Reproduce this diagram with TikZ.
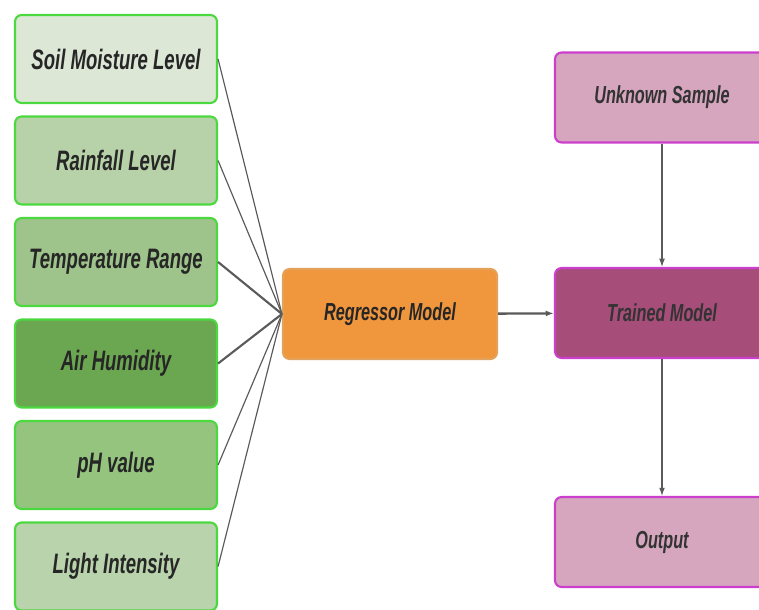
\documentclass[tikz,border=0pt]{standalone}
\usepackage{fontspec}
\setmainfont{Liberation Sans}[FakeStretch=0.66]
\usetikzlibrary{arrows.meta}

\definecolor{soilfill}{HTML}{DDE7D6}
\definecolor{rainfill}{HTML}{B7D2A9}
\definecolor{tempfill}{HTML}{9EC48B}
\definecolor{humfill}{HTML}{6BA651}
\definecolor{phfill}{HTML}{94C47E}
\definecolor{lightfill}{HTML}{B9D3AC}
\definecolor{greenline}{HTML}{4CD93F}
\definecolor{regfill}{HTML}{F0963C}
\definecolor{regline}{HTML}{E3A25A}
\definecolor{pinkfill}{HTML}{D5A6BD}
\definecolor{trainfill}{HTML}{A64D79}
\definecolor{pinkline}{HTML}{CC3FCC}
\definecolor{wire}{HTML}{5A5A5A}

\begin{document}
\begin{tikzpicture}
  [x=0.03cm,y=-0.03cm,
   every node/.style={rounded corners=0.2cm,line width=1.8pt,align=center,
     font=\bfseries\itshape},
   feature/.style={draw=greenline,minimum width=6.06cm,minimum height=2.64cm,
     text=black!85,font=\bfseries\itshape\fontsize{24}{28}\selectfont},
   model/.style={minimum width=6.42cm,minimum height=2.7cm,
     font=\bfseries\itshape\fontsize{21}{25}\selectfont},
   wire/.style={draw=wire,line width=1pt},
   flow/.style={wire,-{Latex[length=7pt,width=5pt]}}]
  \useasboundingbox (0,0) rectangle (759,609);
  \clip (0,0) rectangle (759,609);

  \node[feature,fill=soilfill]  (soil)  at (116,59)    {Soil Moisture Level};
  \node[feature,fill=rainfill]  (rain)  at (116,160.5) {Rainfall Level};
  \node[feature,fill=tempfill]  (temp)  at (116,262)   {Temperature Range};
  \node[feature,fill=humfill]   (hum)   at (116,363.5) {Air Humidity};
  \node[feature,fill=phfill]    (ph)    at (116,465)   {pH value};
  \node[feature,fill=lightfill] (light) at (116,566.5) {Light Intensity};

  \node[model,draw=regline,fill=regfill,text=black!85] (reg) at (390,314) {Regressor Model};
  \node[model,draw=pinkline,fill=pinkfill,text=black!80] (unk) at (662,97.5) {Unknown Sample};
  \node[model,draw=pinkline,fill=trainfill,text=black!80] (train) at (662,313) {Trained Model};
  \node[model,draw=pinkline,fill=pinkfill,text=black!80] (out) at (662,542) {Output};

  \foreach \from in {soil,rain,ph,light}
    \draw[wire] (\from.east) -- (reg.west);
  \foreach \from in {temp,hum}
    \draw[wire,line width=1.8pt] (\from.east) -- (reg.west);

  \draw[flow,line width=2pt] (reg) -- (train);
  \draw[flow] (unk) -- (train);
  \draw[flow] (train) -- (out);

\end{tikzpicture}
\end{document}
